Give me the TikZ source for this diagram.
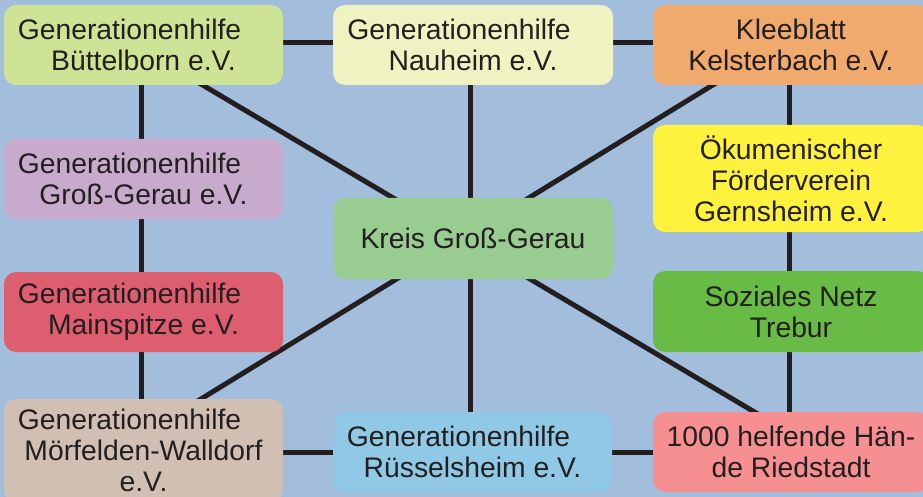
\documentclass[tikz,border=0pt]{standalone}
\usepackage{fontspec}
\setmainfont{Liberation Sans}
\usetikzlibrary{backgrounds}
\definecolor{bgblue}{HTML}{A3BDDD}
\definecolor{ink}{HTML}{231F20}
\definecolor{cBu}{HTML}{CDE396}
\definecolor{cNa}{HTML}{EFF2C1}
\definecolor{cKl}{HTML}{F0AA6E}
\definecolor{cOk}{HTML}{FFF23E}
\definecolor{cSn}{HTML}{68BB45}
\definecolor{cHd}{HTML}{F58F91}
\definecolor{cRu}{HTML}{8FC9E6}
\definecolor{cMw}{HTML}{D0BFB2}
\definecolor{cMs}{HTML}{DD5E6F}
\definecolor{cGg}{HTML}{C8AACC}
\definecolor{cKs}{HTML}{99CC91}
\newcommand{\GenH}{Generationenhilfe\kern28pt}
\begin{document}
\begin{tikzpicture}[x=1pt,y=-1pt,
  orgbox/.style={draw=none, rounded corners=12pt, inner sep=0pt, align=center,
    text=ink, font=\fontsize{28.3}{31}\selectfont},
  link/.style={draw=ink, line width=5pt}]
\useasboundingbox (0,0) rectangle (923,497);
\clip (0,0) rectangle (923,497);
% boxes
\node[orgbox, fill=cBu, minimum width=279pt, minimum height=80pt] (bu) at (143.5,45) {\GenH\\Büttelborn e.V.};
\node[orgbox, fill=cNa, minimum width=280pt, minimum height=80pt] (na) at (473,45) {\GenH\\Nauheim e.V.};
\node[orgbox, fill=cKl, minimum width=276pt, minimum height=80pt] (kl) at (791,45) {Kleeblatt\\Kelsterbach e.V.};
\node[orgbox, fill=cGg, minimum width=279pt, minimum height=80pt] (gg) at (143.5,179) {\GenH\\Groß-Gerau e.V.};
\node[orgbox, fill=cMs, minimum width=279pt, minimum height=80pt] (ms) at (143.5,312) {\GenH\\Mainspitze e.V.};
\node[orgbox, fill=cMw, minimum width=279pt, minimum height=103pt] (mw) at (143.5,450.5) {\GenH\\Mörfelden-Walldorf\\e.V.};
\node[orgbox, fill=cKs, minimum width=280pt, minimum height=81pt] (ks) at (473,238.5) {Kreis Groß-Gerau};
\node[orgbox, fill=cOk, minimum width=276pt, minimum height=107pt] (ok) at (791,178.5) {Ökumenischer\\Förderverein\\Gernsheim e.V.};
\node[orgbox, fill=cSn, minimum width=276pt, minimum height=81pt] (sn) at (791,311.5) {Soziales Netz\\Trebur};
\node[orgbox, fill=cHd, minimum width=276pt, minimum height=80pt] (hd) at (791,452) {1000 helfende Hän-\\de Riedstadt};
\node[orgbox, fill=cRu, minimum width=279pt, minimum height=80pt] (ru) at (472.5,452) {\GenH\\Rüsselsheim e.V.};
% background and connectors behind the boxes
\begin{scope}[on background layer]
\fill[bgblue] (0,0) rectangle (923,497);
% vertical columns
\draw[link] ([xshift=-2.5pt]bu.center) -- ([xshift=-2.5pt]mw.center);
\draw[link] ([xshift=-3pt]na.center) -- ([xshift=-2.5pt]ru.center);
\draw[link] ([xshift=-2pt]kl.center) -- ([xshift=-2pt]hd.center);
% horizontal rows
\draw[link] ([yshift=2pt]bu.center) -- ([yshift=2pt]kl.center);
\draw[link] (mw.center |- hd.center) -- (hd.center);
% crossing diagonals
\draw[link] ([xshift=-8.5pt]bu.center) -- ([xshift=31pt]hd.center);
\draw[link] ([xshift=-13pt]kl.center) -- ([xshift=-26.5pt]mw.center);
\end{scope}
\end{tikzpicture}
\end{document}
